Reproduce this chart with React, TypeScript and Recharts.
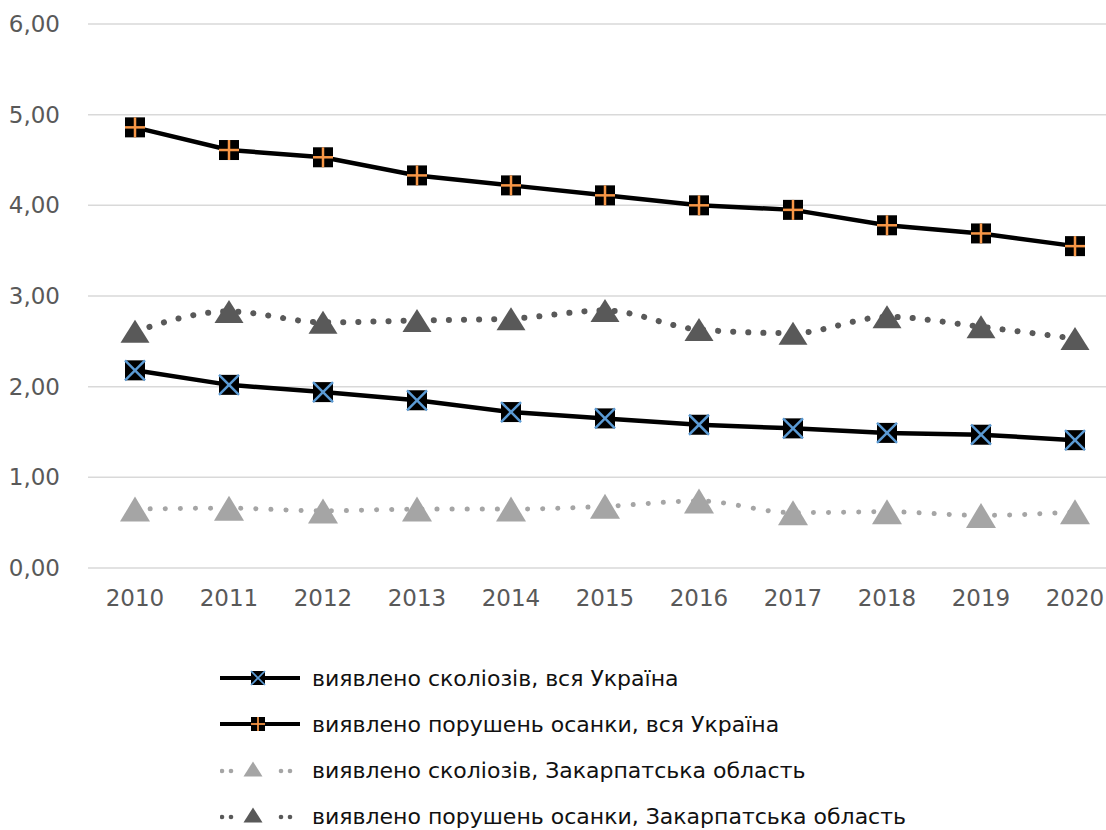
import { LineChart, Line, XAxis, YAxis, CartesianGrid, Legend } from "recharts"

const years = ["2010", "2011", "2012", "2013", "2014", "2015", "2016", "2017", "2018", "2019", "2020"]
const scoliosisUkraine = [2.18, 2.02, 1.94, 1.85, 1.72, 1.65, 1.58, 1.54, 1.49, 1.47, 1.41]
const postureUkraine = [4.86, 4.61, 4.53, 4.33, 4.22, 4.11, 4.0, 3.95, 3.78, 3.69, 3.55]
const scoliosisZakarpattia = [0.65, 0.66, 0.63, 0.65, 0.65, 0.68, 0.74, 0.61, 0.62, 0.58, 0.62]
const postureZakarpattia = [2.61, 2.83, 2.71, 2.73, 2.75, 2.84, 2.63, 2.59, 2.77, 2.66, 2.53]
const yTicks = [0, 1, 2, 3, 4, 5, 6]

const seriesNames: Record<string, string> = {
  scolUA: "виявлено сколіозів, вся Україна",
  postUA: "виявлено порушень осанки, вся Україна",
  scolZak: "виявлено сколіозів, Закарпатська область",
  postZak: "виявлено порушень осанки, Закарпатська область",
}
const legendOrder = ["scolUA", "postUA", "scolZak", "postZak"]

const data = years.map((year, i) => ({
  year,
  scolUA: scoliosisUkraine[i],
  postUA: postureUkraine[i],
  scolZak: scoliosisZakarpattia[i],
  postZak: postureZakarpattia[i],
}))

const FONT = "'DejaVu Sans', sans-serif"
const ORANGE = "#f79646"
const BLUE = "#5b9bd5"
const DARK = "#595959"
const LIGHT = "#a5a5a5"

function SquareMarker({ cx, cy, size, kind }: { cx: number; cy: number; size: number; kind: "x" | "plus" }) {
  const h = size / 2
  return (
    <g>
      <rect x={cx - h} y={cy - h} width={size} height={size} fill="#000" />
      {kind === "x" ? (
        <g stroke={BLUE} strokeWidth={size / 8}>
          <line x1={cx - h} y1={cy - h} x2={cx + h} y2={cy + h} />
          <line x1={cx - h} y1={cy + h} x2={cx + h} y2={cy - h} />
        </g>
      ) : (
        <g stroke={ORANGE} strokeWidth={size / 8}>
          <line x1={cx - h} y1={cy} x2={cx + h} y2={cy} />
          <line x1={cx} y1={cy - h} x2={cx} y2={cy + h} />
        </g>
      )}
    </g>
  )
}

function Triangle({ cx, cy, w, h, fill }: { cx: number; cy: number; w: number; h: number; fill: string }) {
  return <polygon points={`${cx},${cy - h / 2} ${cx + w / 2},${cy + h / 2} ${cx - w / 2},${cy + h / 2}`} fill={fill} />
}

const xDot = (p: any) => <SquareMarker key={p.key ?? p.index} cx={p.cx} cy={p.cy} size={20} kind="x" />
const plusDot = (p: any) => <SquareMarker key={p.key ?? p.index} cx={p.cx} cy={p.cy} size={20} kind="plus" />
const darkTri = (p: any) => <Triangle key={p.key ?? p.index} cx={p.cx} cy={p.cy} w={29} h={23} fill={DARK} />
const lightTri = (p: any) => <Triangle key={p.key ?? p.index} cx={p.cx} cy={p.cy} w={30} h={25} fill={LIGHT} />

function LegendSample({ id }: { id: string }) {
  if (id === "scolUA" || id === "postUA") {
    return (
      <svg width={84} height={46}>
        <line x1={0} y1={23} x2={80} y2={23} stroke="#000" strokeWidth={4} />
        <SquareMarker cx={38} cy={23} size={14} kind={id === "scolUA" ? "x" : "plus"} />
      </svg>
    )
  }
  const color = id === "scolZak" ? LIGHT : DARK
  return (
    <svg width={84} height={46}>
      {[2, 11, 61, 70].map((x) => (
        <circle key={x} cx={x} cy={24} r={2.3} fill={color} />
      ))}
      <Triangle cx={33} cy={22} w={19} h={15} fill={color} />
    </svg>
  )
}

function renderLegend() {
  return (
    <div style={{ fontFamily: FONT, fontSize: 22, color: "#111" }}>
      {legendOrder.map((id) => (
        <div key={id} style={{ display: "flex", alignItems: "center", height: 46 }}>
          <LegendSample id={id} />
          <span style={{ marginLeft: 8, whiteSpace: "nowrap" }}>{seriesNames[id]}</span>
        </div>
      ))}
    </div>
  )
}

export default function App() {
  const tickStyle = { fontSize: 23, fill: "#595959", fontFamily: FONT }
  return (
    <div style={{ position: "absolute", left: 0, top: 0, width: 1106, height: 830, overflow: "hidden", background: "#fff" }}>
      <LineChart width={1122} height={830} data={data} margin={{ top: 24, right: 0, bottom: 0, left: 0 }}>
        <CartesianGrid vertical={false} stroke="#d9d9d9" strokeWidth={1.5} />
        <XAxis
          dataKey="year"
          padding={{ left: 47, right: 47 }}
          axisLine={false}
          tickLine={false}
          tickSize={6}
          tickMargin={16}
          height={87}
          tick={tickStyle}
          interval={0}
        />
        <YAxis
          domain={[0, 6]}
          ticks={yTicks}
          width={88}
          axisLine={false}
          tickLine={false}
          tickSize={6}
          tickMargin={22}
          tick={tickStyle}
          tickFormatter={(v) => Number(v).toFixed(2).replace(".", ",")}
        />
        <Legend
          verticalAlign="bottom"
          align="left"
          height={175}
          content={renderLegend}
          wrapperStyle={{ left: 220, width: 760 }}
        />
        <Line
          dataKey="scolZak"
          name={seriesNames.scolZak}
          type="monotone"
          stroke={LIGHT}
          strokeWidth={5}
          strokeDasharray="0.1 15"
          strokeLinecap="round"
          dot={lightTri}
          activeDot={false}
          isAnimationActive={false}
        />
        <Line
          dataKey="postZak"
          name={seriesNames.postZak}
          type="monotone"
          stroke={DARK}
          strokeWidth={6}
          strokeDasharray="0.1 15"
          strokeLinecap="round"
          dot={darkTri}
          activeDot={false}
          isAnimationActive={false}
        />
        <Line
          dataKey="scolUA"
          name={seriesNames.scolUA}
          type="linear"
          stroke="#000"
          strokeWidth={4.5}
          dot={xDot}
          activeDot={false}
          isAnimationActive={false}
        />
        <Line
          dataKey="postUA"
          name={seriesNames.postUA}
          type="linear"
          stroke="#000"
          strokeWidth={4.5}
          dot={plusDot}
          activeDot={false}
          isAnimationActive={false}
        />
      </LineChart>
    </div>
  )
}
